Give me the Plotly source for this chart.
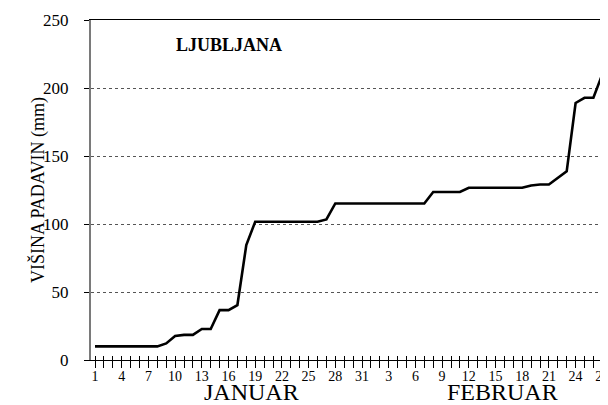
import plotly.graph_objects as go

# Days 1..59 (1 Jan .. 28 Feb), cumulative precipitation (mm)
days = list(range(1, 60))
precip = [
    10, 10, 10, 10, 10, 10, 10, 10, 12.2, 17.6,
    18.5, 18.5, 22.8, 22.8, 36.7, 36.7, 40.4, 84.5, 101.6, 101.6,
    101.6, 101.6, 101.6, 101.6, 101.6, 101.6, 103.4, 115.1, 115.1, 115.1,
    115.1, 115.1, 115.1, 115.1, 115.1, 115.1, 115.1, 115.1, 123.5, 123.5,
    123.5, 123.5, 126.6, 126.6, 126.6, 126.6, 126.6, 126.6, 126.6, 128.3,
    129.0, 129.0, 134.0, 138.7, 189.0, 192.8, 192.8, 210.0, 222.0,
]
day_of_month = list(range(1, 32)) + list(range(1, 29))
label_every = 3
tick_text = [str(d) if (i % label_every == 0) else "" for i, d in enumerate(day_of_month)]
y_ticks = [0, 50, 100, 150, 200, 250]
months = ["JANUAR", "FEBRUAR"]
month_pos = [18.6, 46.8]
station = "LJUBLJANA"
y_title = "VIŠINA PADAVIN (mm)"

SERIF = "Liberation Serif, Times New Roman, serif"
OFF = 8  # default page body margin
W, H = 608 - OFF, 405 - OFF
L, T = 91 - OFF, 20 - OFF
B = H - (360 - OFF)
PW, PH = W - L, H - T - B


def px(wx):
    return (wx - OFF - L) / PW


def py(wy):
    return (H - B - (wy - OFF)) / PH


fig = go.Figure()
fig.add_trace(go.Scatter(x=days, y=precip, mode="lines",
                         line=dict(color="black", width=2.6),
                         showlegend=False, hoverinfo="skip"))
for ax in ("x2", "x3"):
    fig.add_trace(go.Scatter(x=[days[0]], y=[precip[0]], xaxis=ax, mode="markers",
                             marker=dict(opacity=0), showlegend=False, hoverinfo="skip"))

xr = [0.55, 58.64]
tick_common = dict(range=xr, tickvals=days, tickwidth=1.3, tickcolor="black",
                   showticklabels=False, showgrid=False, zeroline=False,
                   side="bottom", showline=False, automargin=False,
                   overlaying="x", anchor="y")
fig.update_layout(
    width=W, height=H,
    margin=dict(l=L, r=0, t=T, b=B, autoexpand=False),
    paper_bgcolor="white", plot_bgcolor="white",
    font=dict(family=SERIF, color="black"),
    xaxis=dict(range=xr, tickvals=days, ticktext=tick_text, ticks="outside",
               ticklen=3, tickwidth=1.3, tickcolor="black",
               ticklabeloverflow="allow",
               showline=True, linecolor="black", linewidth=1.3, mirror=True,
               showgrid=False, zeroline=False, automargin=False,
               tickfont=dict(family=SERIF, size=14, color="black")),
    xaxis2=dict(ticks="outside", ticklen=7, **tick_common),
    xaxis3=dict(ticks="inside", ticklen=4, **tick_common),
    yaxis=dict(range=[0, 250], tickvals=y_ticks, ticks="outside", ticklen=5,
               tickwidth=1.2, tickcolor="black", ticklabelstandoff=12,
               showline=True, linecolor="#7a7a7a", linewidth=2,
               showgrid=True, gridcolor="#555555", gridwidth=1, griddash="dot",
               zeroline=False, automargin=False,
               tickfont=dict(family=SERIF, size=17, color="black")),
)

fig.add_annotation(text=y_title, xref="paper", yref="paper",
                   x=px(38), y=py(190), xanchor="center", yanchor="middle",
                   textangle=-90, showarrow=False,
                   font=dict(family=SERIF, size=18, color="black"))
fig.add_annotation(text="<b>" + station + "</b>", xref="paper", yref="paper",
                   x=px(229), y=py(45), xanchor="center", yanchor="middle",
                   showarrow=False,
                   font=dict(family=SERIF, size=18, color="black"))
for m, p in zip(months, month_pos):
    fig.add_annotation(text=m, xref="x", yref="paper", x=p, y=py(392),
                       xanchor="center", yanchor="middle",
                       showarrow=False, font=dict(family=SERIF, size=24, color="black"))

fig.write_html("out.html")
